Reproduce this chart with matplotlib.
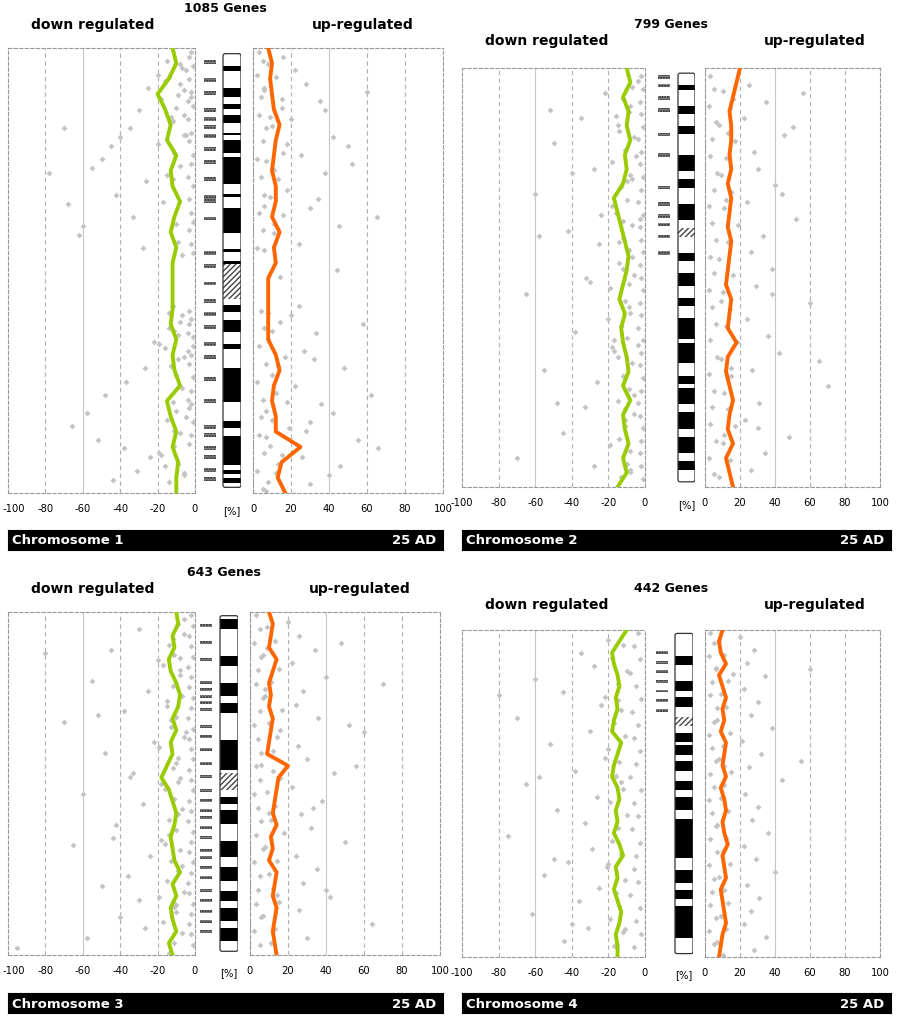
import matplotlib.pyplot as plt
from matplotlib.patches import Rectangle, FancyBboxPatch
from matplotlib.transforms import ScaledTranslation
import numpy as np

W, H = 899, 1021

titles = ["1085 Genes", "799 Genes", "643 Genes", "442 Genes"]
chrom_names = ["Chromosome 1", "Chromosome 2", "Chromosome 3", "Chromosome 4"]
ticks_down = [-100, -80, -60, -40, -20, 0]
ticks_up = [0, 20, 40, 60, 80, 100]

# mean lines, top -> bottom along chromosome
green = [
    [-12, -10, -14, -20, -16, -13, -15, -10, -13, -12, -8, -11, -13, -10, -12, -12, -12, -12, -13, -10, -12, -11, -8, -15, -13, -10, -12, -9, -10, -10],
    [-10, -8, -12, -9, -10, -8, -11, -10, -12, -17, -15, -13, -11, -9, -10, -12, -14, -11, -13, -12, -10, -9, -12, -8, -12, -11, -9, -12, -10, -15],
    [-10, -9, -12, -11, -14, -13, -10, -8, -9, -12, -10, -13, -12, -15, -18, -14, -12, -10, -11, -13, -12, -11, -8, -12, -10, -13, -12, -10, -14, -12],
    [-10, -14, -18, -17, -15, -14, -16, -15, -17, -18, -13, -15, -17, -18, -15, -14, -16, -15, -17, -14, -12, -16, -15, -17, -15, -13, -14, -16, -15, -15],
]
orange = [
    [8, 10, 9, 10, 11, 14, 12, 11, 10, 12, 12, 10, 14, 11, 12, 8, 8, 8, 8, 8, 12, 14, 11, 10, 12, 12, 25, 15, 13, 17],
    [20, 18, 16, 14, 15, 15, 14, 15, 13, 15, 14, 13, 15, 14, 13, 12, 15, 14, 13, 18, 13, 12, 14, 16, 14, 13, 16, 12, 14, 16],
    [10, 12, 11, 10, 14, 12, 10, 11, 10, 12, 11, 10, 9, 20, 15, 14, 13, 12, 14, 11, 12, 10, 14, 13, 12, 14, 13, 12, 13, 14],
    [10, 8, 9, 12, 8, 10, 12, 10, 11, 9, 12, 11, 10, 12, 9, 11, 12, 10, 11, 13, 10, 11, 12, 9, 10, 11, 12, 10, 9, 8],
]

# gray gene dots (position along chromosome in %, value in %)
down_y = [
    [2, 5, 8, 10, 12, 15, 3, 6, 9, 14, 18, 20, 22, 25, 27, 18, 28, 42, 33, 38, 45, 58, 60, 62, 65, 68, 70, 63, 66, 72, 75, 78, 82, 85, 88, 90, 92, 94, 96, 80, 83, 86, 91, 95, 97, 40, 35, 30,
     1, 4, 7, 11, 13, 16, 19, 21, 24, 26, 29, 31, 34, 37, 39, 41, 44, 46, 59, 61, 64, 67, 69, 71, 74, 77, 79, 81, 84, 87, 89, 93, 98],
    [3, 6, 9, 12, 15, 18, 21, 24, 27, 30, 33, 36, 39, 42, 45, 48, 51, 54, 57, 60, 63, 66, 69, 72, 75, 78, 81, 84, 87, 90, 93, 96, 10, 25, 35, 50, 65, 80, 95, 40,
     2, 5, 8, 11, 14, 17, 20, 23, 26, 29, 32, 35, 38, 41, 44, 47, 50, 53, 56, 59, 62, 65, 68, 71, 74, 77, 80, 83, 86, 89, 92, 95, 98],
    [2, 5, 8, 11, 14, 17, 20, 23, 26, 29, 32, 35, 38, 41, 44, 47, 50, 53, 56, 59, 62, 65, 68, 71, 74, 77, 80, 83, 86, 89, 92, 95, 98, 12, 30, 48, 66, 84,
     1, 4, 7, 10, 13, 16, 19, 22, 25, 28, 31, 34, 37, 40, 43, 46, 49, 52, 55, 58, 61, 64, 67, 70, 73, 76, 79, 82, 85, 88, 91, 94, 97],
    [3, 7, 11, 15, 19, 23, 27, 31, 35, 39, 43, 47, 51, 55, 59, 63, 67, 71, 75, 79, 83, 87, 91, 95, 20, 45, 70, 90,
     1, 5, 9, 13, 17, 21, 25, 29, 33, 37, 41, 45, 49, 53, 57, 61, 65, 69, 73, 77, 81, 85, 89, 93, 97],
]
down_x = [
    [-3, -5, -8, -2, -4, -6, -15, -20, -25, -30, -35, -40, -45, -50, -55, -70, -78, -62, -42, -33, -28, -12, -7, -3, -1, -4, -9, -14, -22, -27, -37, -48, -58, -66, -52, -38, -24, -16, -6, -2, -5, -11, -19, -31, -44, -60, -68, -26,
     -2, -1, -3, -2, -1, -4, -2, -3, -1, -2, -4, -1, -3, -2, -1, -3, -2, -1, -3, -2, -4, -1, -2, -3, -1, -2, -4, -3, -1, -2, -3],
    [-4, -22, -8, -35, -14, -50, -5, -28, -10, -60, -18, -3, -42, -25, -7, -12, -30, -65, -9, -20, -38, -4, -15, -55, -26, -6, -33, -11, -45, -19, -70, -8, -52, -40, -24, -32, -17, -48, -28, -58,
     -2, -1, -3, -2, -1, -4, -2, -3, -1, -2, -4, -1, -3, -2, -1, -3, -2, -1, -3, -2, -4, -1, -2, -3, -1, -2, -4, -3, -1, -2, -3, -2, -1],
    [-6, -30, -12, -45, -20, -8, -55, -25, -15, -38, -70, -5, -22, -48, -10, -33, -18, -60, -28, -9, -42, -14, -65, -24, -7, -36, -50, -19, -11, -40, -27, -58, -95, -80, -52, -35, -44, -30,
     -2, -1, -3, -2, -1, -4, -2, -3, -1, -2, -4, -1, -3, -2, -1, -3, -2, -1, -3, -2, -4, -1, -2, -3, -1, -2, -4, -3, -1, -2, -3, -2, -1],
    [-20, -35, -28, -60, -45, -24, -70, -30, -52, -22, -38, -65, -26, -48, -33, -75, -29, -42, -55, -25, -36, -62, -31, -44, -80, -58, -50, -40,
     -4, -6, -3, -8, -5, -2, -7, -4, -6, -3, -5, -8, -2, -6, -4, -7, -3, -5, -6, -4, -8, -3, -5, -2, -6],
]
# second value column per gene row (moderate values near the mean line)
down_x2 = [
    [-8, -14, -6, -18, -10, -12, -7, -16, -9, -13, -5, -20, -11, -8, -15, -6, -12, -9, -17, -10, -7, -14, -8, -11, -19, -6, -13, -9, -16, -10, -7, -12, -15, -8, -11, -18, -9, -6, -14, -10],
    [-7, -12, -9, -15, -6, -11, -18, -8, -13, -10, -16, -7, -12, -9, -14, -6, -19, -11, -8, -13, -10, -17, -7, -12, -9, -15, -6, -11, -14, -8, -10, -13, -16, -7, -12, -9, -18, -11, -8, -14],
    [-9, -6, -14, -11, -17, -8, -12, -7, -15, -10, -13, -6, -19, -9, -12, -8, -16, -11, -7, -14, -10, -18, -8, -13, -9, -15, -6, -12, -10, -17, -7, -11, -14, -8, -13, -9, -16, -10],
    [-12, -18, -10, -15, -22, -13, -17, -11, -20, -14, -16, -12, -19, -10, -15, -18, -13, -21, -11, -16, -14, -19, -12, -17, -15, -13, -20, -11],
]
up_y = [
    [2, 5, 8, 12, 16, 20, 24, 28, 32, 36, 40, 44, 60, 64, 68, 72, 76, 80, 84, 88, 92, 96, 10, 26, 34, 50, 62, 78, 86, 94, 14, 22, 38, 58, 70, 82, 90, 98,
     1, 3, 6, 9, 11, 15, 18, 21, 25, 29, 33, 37, 41, 45, 59, 63, 67, 71, 75, 79, 83, 87, 91, 95, 99],
    [4, 8, 12, 16, 20, 24, 28, 32, 36, 40, 44, 48, 52, 56, 60, 64, 68, 72, 76, 80, 84, 88, 92, 96, 6, 30, 54, 70, 86, 14,
     2, 5, 9, 13, 17, 21, 25, 29, 33, 37, 41, 45, 49, 53, 57, 61, 65, 69, 73, 77, 81, 85, 89, 93, 97],
    [3, 7, 11, 15, 19, 23, 27, 31, 35, 39, 43, 47, 51, 55, 59, 63, 67, 71, 75, 79, 83, 87, 91, 95, 9, 33, 57, 81, 45, 21,
     1, 5, 9, 13, 17, 21, 25, 29, 33, 37, 41, 45, 49, 53, 57, 61, 65, 69, 73, 77, 81, 85, 89, 93, 97],
    [2, 6, 10, 14, 18, 22, 26, 30, 34, 38, 42, 46, 50, 54, 58, 62, 66, 70, 74, 78, 82, 86, 90, 94, 98, 12, 40,
     1, 4, 8, 12, 16, 20, 24, 28, 32, 36, 40, 44, 48, 52, 56, 60, 64, 68, 72, 76, 80, 84, 88, 92, 96],
]
up_x = [
    [16, 22, 28, 35, 20, 42, 25, 38, 18, 30, 45, 24, 20, 33, 27, 48, 22, 36, 30, 55, 26, 40, 60, 52, 34, 44, 58, 62, 28, 46, 38, 50, 65, 24, 32, 42, 66, 30,
     3, 5, 2, 6, 4, 3, 7, 5, 2, 4, 6, 3, 5, 2, 4, 6, 3, 7, 2, 5, 4, 3, 6, 2, 5],
    [25, 35, 22, 45, 28, 30, 40, 24, 52, 33, 26, 38, 29, 60, 24, 36, 42, 27, 70, 31, 23, 48, 34, 26, 56, 44, 38, 65, 30, 50,
     3, 5, 2, 6, 4, 3, 7, 5, 2, 4, 6, 3, 5, 2, 4, 6, 3, 7, 2, 5, 4, 3, 6, 2, 5],
    [20, 26, 34, 22, 40, 28, 24, 36, 60, 25, 30, 44, 22, 38, 27, 32, 50, 24, 35, 28, 42, 26, 64, 30, 48, 52, 33, 40, 56, 70,
     3, 5, 2, 6, 4, 3, 7, 5, 2, 4, 6, 3, 5, 2, 4, 6, 3, 7, 2, 5, 4, 3, 6, 2, 5],
    [20, 28, 24, 34, 22, 30, 26, 38, 21, 32, 25, 44, 23, 30, 27, 36, 22, 29, 40, 24, 31, 26, 22, 35, 28, 60, 55,
     3, 5, 2, 6, 4, 3, 7, 5, 2, 4, 6, 3, 5, 2, 4, 6, 3, 7, 2, 5, 4, 3, 6, 2, 5],
]
up_x2 = [
    [8, 12, 6, 15, 10, 18, 7, 13, 9, 16, 11, 6, 14, 8, 17, 10, 12, 7, 19, 9, 13, 8, 15, 11, 6, 14, 10, 18, 7, 12, 9, 16, 11, 8, 13, 10, 15, 7],
    [10, 14, 8, 17, 12, 9, 15, 11, 19, 13, 8, 16, 10, 14, 12, 18, 9, 15, 11, 13, 17, 10, 14, 8, 16, 12, 9, 15, 11, 13],
    [9, 13, 7, 15, 11, 8, 17, 10, 14, 12, 6, 16, 9, 13, 11, 18, 8, 14, 10, 12, 15, 7, 13, 11, 9, 16, 10, 14, 12, 8],
    [8, 11, 6, 13, 9, 12, 7, 14, 10, 8, 15, 11, 9, 13, 7, 12, 10, 14, 8, 11, 13, 9, 12, 7, 10, 16, 11],
]

# ideogram bands (start, end) in % of length; hatched = heterochromatin
bands_black = [
    [(2.9, 4.0), (8.0, 10.0), (11.6, 12.7), (14.1, 16.1), (18.3, 18.8), (19.9, 23.0), (23.9, 30.1), (32.4, 33.0), (35.7, 41.3), (45.1, 45.8), (47.8, 48.4),
     (58, 59.6), (61.4, 64.1), (67, 68), (72.5, 80.4), (84.8, 86.4), (88.2, 94.9), (96, 97), (97.8, 98.9)],
    [(3, 4), (8, 10), (13, 15), (20, 24), (26, 28), (32, 36), (44, 46), (49, 52), (55, 57), (60, 65), (66, 71), (74, 76), (77, 81), (83, 87), (89, 93), (95, 97)],
    [(1, 4), (12, 15), (20, 24), (26, 29), (37, 46), (54, 56), (58, 62), (67, 72), (75, 79), (82, 85), (87, 91), (93, 97)],
    [(7, 10), (15, 18), (20, 23), (31, 34), (35, 38), (40, 43), (46, 49), (51, 55), (58, 70), (74, 78), (80, 83), (85, 95)],
]
bands_hatch = [[(48.4, 56.5)], [(38, 40)], [(47, 52)], [(26, 29)]]
marks = [
    [2, 6, 9, 13, 15, 17, 19, 22, 25, 29, 33, 34, 38, 46, 49, 53, 57, 60, 63, 67, 70, 75, 80, 86, 88, 91, 93, 96, 98],
    [1, 3, 6, 9, 15, 20, 28, 32, 35, 37, 40, 44],
    [3, 8, 13, 20, 22, 24, 26, 28, 33, 36, 40, 44, 48, 52, 55, 58, 60, 63, 66, 70, 72, 75, 78, 82, 85, 88, 91, 94],
    [6, 9, 12, 15, 18, 21, 24],
]

# layout in pixels
layout = [
    dict(L=(8, 195), I=(223, 241), M=(204, 216), R=(253, 443), top=48, bot=493, bar=(8, 443, 530, 550), ty=8),
    dict(L=(462, 645), I=(678, 695), M=(658, 670), R=(705, 880), top=68, bot=487, bar=(462, 891, 530, 550), ty=24),
    dict(L=(8, 195), I=(220, 238), M=(200, 212), R=(250, 440), top=612, bot=955, bar=(8, 443, 993, 1013), ty=572),
    dict(L=(462, 645), I=(675, 693), M=(656, 668), R=(705, 880), top=630, bot=957, bar=(462, 891, 993, 1013), ty=588),
]

fig = plt.figure(figsize=(W / 100, H / 100), dpi=100)
plt.rcParams['font.family'] = ['DejaVu Sans']
DOT = "#c4c4c4"


def px_axes(x0, x1, y0, y1):
    return fig.add_axes([x0 / W, 1 - y1 / H, (x1 - x0) / W, (y1 - y0) / H])


def paired(xs, ys):
    n = min(len(xs), len(ys))
    return xs[:n], ys[:n]


def style_grid(ax, xs, solid, ticks):
    for x in xs:
        ax.axvline(x, color="#c8c8c8" if x in solid else "#b0b0b0", lw=0.8,
                   ls="-" if x in solid else (0, (4, 3)), zorder=0)
    for s in ax.spines.values():
        s.set_color("#999999")
        s.set_linestyle((0, (3, 2)))
        s.set_linewidth(0.8)
    ax.set_xticks(ticks)
    ax.set_xticklabels([str(t) for t in ticks])
    ax.tick_params(length=0, labelsize=7.2, pad=8)


for i, lay in enumerate(layout):
    top, bot = lay["top"], lay["bot"]
    ly = np.linspace(0, 100, len(green[i]))

    axl = px_axes(*lay["L"], top, bot)
    axl.set_xlim(-100, 0)
    axl.set_ylim(100, 0)
    axl.set_yticks([])
    style_grid(axl, [-80, -60, -40, -20, 0], [-60, 0], ticks_down)
    if lay["L"][0] < 20:
        first = axl.get_xticklabels()[0]
        first.set_transform(first.get_transform() + ScaledTranslation(6 / 100, 0, fig.dpi_scale_trans))
    axl.scatter(*paired(down_x[i], down_y[i]), s=9, marker="D", color=DOT, lw=0, zorder=1)
    axl.scatter(*paired(down_x2[i], [y + 1.5 for y in down_y[i]]), s=9, marker="D", color=DOT, lw=0, zorder=1)
    axl.plot(green[i], ly, color="#99cc00", lw=2.8, zorder=3)

    axr = px_axes(*lay["R"], top, bot)
    axr.set_xlim(0, 100)
    axr.set_ylim(100, 0)
    axr.set_yticks([])
    style_grid(axr, [0, 20, 40, 60, 80], [40], ticks_up)
    axr.scatter(*paired(up_x[i], up_y[i]), s=9, marker="D", color=DOT, lw=0, zorder=1)
    axr.scatter(*paired(up_x2[i], [y + 1.5 for y in up_y[i]]), s=9, marker="D", color=DOT, lw=0, zorder=1)
    axr.plot(orange[i], ly, color="#ff6600", lw=2.8, zorder=3)

    # ideogram
    axi = px_axes(lay["M"][0], lay["I"][1], top - 3, bot + 3)
    axi.set_xlim(lay["M"][0], lay["I"][1])
    axi.set_ylim(102, -2)
    axi.axis("off")
    i0, i1 = lay["I"]
    for a, b in bands_black[i]:
        axi.add_patch(Rectangle((i0, a), i1 - i0, b - a, color="black", lw=0))
    for a, b in bands_hatch[i]:
        axi.add_patch(Rectangle((i0, a), i1 - i0, b - a, facecolor="white",
                                edgecolor="#444444", hatch="//////", lw=0))
    axi.add_patch(FancyBboxPatch((i0, 0), i1 - i0, 100, boxstyle="round,pad=0,rounding_size=2",
                                 facecolor="none", edgecolor="#333333", lw=0.9, mutation_aspect=0.3))
    m0, m1 = lay["M"]
    for m in marks[i]:
        axi.add_patch(Rectangle((m0, m - 0.45), m1 - m0, 0.9, facecolor="#888888",
                                edgecolor="#222222", hatch="......", lw=0))
    fig.text((i0 + i1) / 2 / W, 1 - (bot + 18) / H, "[%]", ha="center", va="center", fontsize=7.2)

    # titles
    cx = (lay["L"][0] + lay["R"][1]) / 2
    fig.text(cx / W, 1 - lay["ty"] / H, titles[i], ha="center", va="center", fontsize=9, fontweight="bold")
    fig.text((lay["L"][0] + 85) / W, 1 - (lay["ty"] + 17) / H, "down regulated", ha="center",
             va="center", fontsize=10, fontweight="bold")
    fig.text((lay["R"][0] + 110) / W, 1 - (lay["ty"] + 17) / H, "up-regulated", ha="center",
             va="center", fontsize=10, fontweight="bold")

    # bottom label bar
    bx0, bx1, by0, by1 = lay["bar"]
    axb = px_axes(bx0, bx1, by0, by1)
    axb.set_facecolor("black")
    axb.set_xticks([])
    axb.set_yticks([])
    axb.text(0.01, 0.45, chrom_names[i], color="white", fontsize=9.5, fontweight="bold",
             va="center", transform=axb.transAxes)
    axb.text(0.985, 0.45, "25 AD", color="white", fontsize=9.5, fontweight="bold",
             va="center", ha="right", transform=axb.transAxes)

fig.savefig("out.png", dpi=100)
